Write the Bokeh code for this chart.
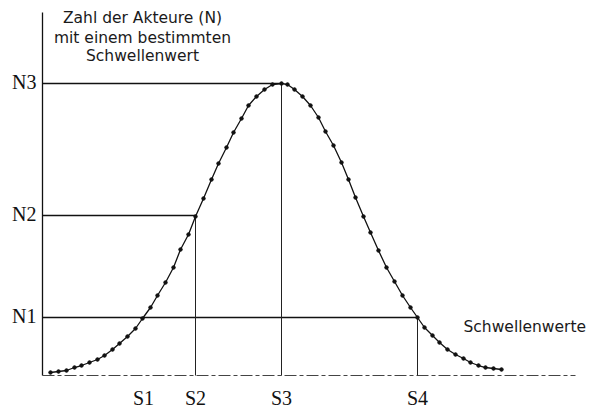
from bokeh.plotting import figure
from bokeh.models import Range1d, ColumnDataSource
from bokeh.embed import file_html
from bokeh.resources import INLINE
from bokeh.core.properties import value

# Bell-shaped distribution of thresholds
curve_x = [0.8, 1.6, 2.4, 3.2, 3.9, 4.7, 5.5, 6.2, 7.0, 7.7, 8.5, 9.3, 10.0, 10.8,
           11.5, 12.3, 13.1, 13.8, 14.6, 15.3, 16.1, 16.9, 17.6, 18.4, 19.1, 19.9,
           20.6, 21.4, 22.2, 23.0, 23.9, 24.5, 25.2, 26.0, 26.8, 27.6, 28.3, 29.1,
           29.9, 30.6, 31.3, 32.1, 32.8, 33.6, 34.4, 35.2, 36.0, 36.8, 37.5, 38.2,
           39.0, 39.7, 40.5, 41.3, 42.1, 42.8, 43.6, 44.3, 45.1, 45.9]
curve_y = [0.3, 0.4, 0.5, 0.8, 1.0, 1.3, 1.6, 2.0, 2.6, 3.2, 3.9, 4.7, 5.7, 6.8,
           8.0, 9.3, 10.8, 12.6, 14.1, 15.9, 17.7, 19.6, 21.2, 22.8, 24.3, 25.7,
           27.0, 27.9, 28.6, 29.1, 29.2, 29.1, 28.6, 27.9, 27.0, 25.8, 24.4, 23.0,
           21.3, 19.6, 17.8, 15.9, 14.3, 12.5, 10.8, 9.4, 8.0, 6.8, 5.8, 4.8,
           4.0, 3.3, 2.6, 2.1, 1.7, 1.3, 1.0, 0.8, 0.7, 0.6]

n_labels = ["N1", "N2", "N3"]
n_values = [5.8, 16.0, 29.2]
s_labels = ["S1", "S2", "S3", "S4"]
s_values = [10.1, 15.3, 23.9, 37.5]
# which threshold each N level reaches (horizontal guide end)
n_guide_to = ["S4", "S2", "S3"]
# vertical guides: threshold -> N level
s_guides = ["S2", "S3", "S4"]
s_guide_level = ["N2", "N3", "N1"]

y_title = ["Zahl der Akteure (N)", "mit einem bestimmten", "Schwellenwert"]
x_title = "Schwellenwerte"
x_axis_end = 53.3
y_axis_top = 36.3

s_map = dict(zip(s_labels, s_values))
n_map = dict(zip(n_labels, n_values))

p = figure(width=592, height=407, x_range=Range1d(-4.2, 55.0),
           y_range=Range1d(-3.2, 37.5), output_backend="svg",
           toolbar_location=None, x_axis_type=None, y_axis_type=None,
           min_border=0)
p.outline_line_color = None
p.background_fill_color = "white"
p.border_fill_color = "white"

# axes
p.segment(x0=[0], y0=[0], x1=[0], y1=[y_axis_top], line_color="#111111", line_width=1.3)
p.segment(x0=[0], y0=[0], x1=[x_axis_end], y1=[0], line_color="#444444",
          line_width=1.0, line_dash="12 3 4 3")

# horizontal guides
p.segment(x0=[0] * len(n_values), y0=n_values,
          x1=[s_map[s] for s in n_guide_to], y1=n_values,
          line_color="#111111", line_width=1.3)
# vertical guides
p.segment(x0=[s_map[s] for s in s_guides], y0=[0] * len(s_guides),
          x1=[s_map[s] for s in s_guides], y1=[n_map[n] for n in s_guide_level],
          line_color="#222222", line_width=1.0)

# curve
src = ColumnDataSource(dict(x=curve_x, y=curve_y))
p.line("x", "y", source=src, line_color="#111111", line_width=1.3)
p.scatter("x", "y", source=src, size=3.5, color="#111111")

# tick labels
p.text(x=[-0.6] * len(n_values), y=n_values, text=n_labels,
       text_font=value("Liberation Serif"), text_font_size="20px",
       text_align="right", text_baseline="middle", y_offset=-1.5,
       text_color="#111111")
p.text(x=s_values, y=[-2.2] * len(s_values), text=s_labels,
       text_font=value("Liberation Serif"), text_font_size="20px",
       text_align="center", text_baseline="middle", text_color="#111111")

# axis titles
p.text(x=[10.0] * 3, y=[35.8, 33.8, 32.0], text=y_title,
       text_font=value("DejaVu Sans"), text_font_size="15.5px",
       text_align="center", text_baseline="middle", text_color="#1a1a1a")
p.text(x=[42.1], y=[4.9], text=[x_title],
       text_font=value("DejaVu Sans"), text_font_size="15.5px",
       text_align="left", text_baseline="middle", text_color="#1a1a1a")

open("out.html", "w").write(file_html(p, INLINE))
